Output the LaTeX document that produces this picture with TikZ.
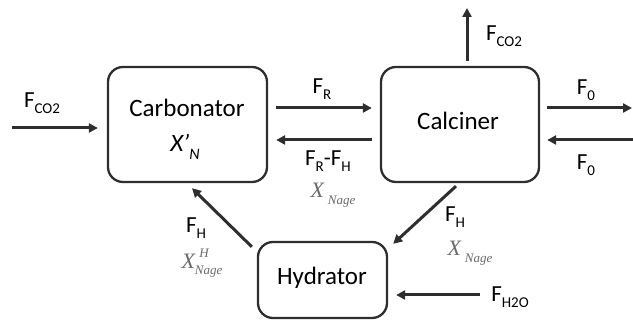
\documentclass[tikz,border=0pt]{standalone}
\usepackage{fontspec}
\setmainfont{Carlito}
\newfontfamily\tms{Liberation Serif}
\usetikzlibrary{arrows.meta}
\definecolor{ln}{HTML}{2E2E2E}
\definecolor{gx}{HTML}{6A6A6A}
\newcommand\sbs[1]{\raisebox{-0.28em}{\fontsize{15}{15}\selectfont #1}}
\newcommand\xn{{\color{gx}\tms\itshape\fontsize{22}{22}\selectfont X\,\raisebox{-0.3em}{\fontsize{13}{13}\selectfont Nage}}}
\newcommand\xnh{{\color{gx}\tms\itshape\fontsize{22}{22}\selectfont X\rlap{\hspace{0.2em}\raisebox{0.5em}{\fontsize{13}{13}\selectfont H}}\raisebox{-0.3em}{\fontsize{13}{13}\selectfont Nage}}}
\begin{document}
\begin{tikzpicture}[x=1pt,y=1pt,
  box/.style={draw=ln,line width=2.3pt,rounded corners=15pt,inner sep=0pt},
  arr/.style={draw=ln,line width=3pt,-{Triangle[length=9pt,width=9pt]}},
  lab/.style={inner sep=0pt,font=\fontsize{23}{23}\selectfont},
  big/.style={inner sep=0pt,font=\fontsize{25}{25}\selectfont}]
\useasboundingbox (0,0) rectangle (633,321);
\node[box,minimum width=159pt,minimum height=115pt] (carb) at (187.5,196.5) {};
\node[box,minimum width=158pt,minimum height=115pt] (calc) at (460,196.5) {};
\node[box,minimum width=129pt,minimum height=76pt] (hyd) at (322.5,41) {};
\node[big] (carbt) at (187,213) {Carbonator};
\node[big] (carbx) at (185,174) {\itshape X’\raisebox{-0.3em}{\fontsize{16}{16}\selectfont N}};
\node[big] (calct) at (458,200) {Calciner};
\node[big] (hydt) at (322,43) {Hydrator};
% connectors
\coordinate (inco2) at (12,193);
\coordinate (outco2) at (467,313);
\coordinate (f0out) at (632,213);
\coordinate (f0in) at (633,181);
\coordinate (h2oin) at (480,26);
\draw[arr] (inco2) -- ([xshift=-9pt,yshift=-3.5pt]carb.west);
\draw[arr] ([xshift=8pt,yshift=16.5pt]carb.east) -- ([xshift=-8pt,yshift=16.5pt]calc.west);
\draw[arr] ([xshift=-8pt,yshift=-15.5pt]calc.west) -- ([xshift=8pt,yshift=-15.5pt]carb.east);
\draw[arr] ([xshift=7pt,yshift=5pt]calc.north) -- (outco2);
\draw[arr] ([xshift=7pt,yshift=16.5pt]calc.east) -- (f0out);
\draw[arr] (f0in) -- ([xshift=7pt,yshift=-15.5pt]calc.east);
\draw[arr] ([xshift=-4pt,yshift=-3pt]calc.south) -- ([xshift=5pt,yshift=-3pt]hyd.north east);
\draw[arr] ([xshift=-5pt,yshift=-6pt]hyd.north west) -- ([xshift=4.5pt,yshift=-5pt]carb.south);
\draw[arr] (h2oin) -- ([xshift=8pt,yshift=-15pt]hyd.east);
% labels
\node[lab] (l1) at (42,218) {F\sbs{CO2}};
\node[lab] (l2) at (322,232) {F\sbs{R}};
\node[lab] (l3) at (328,160) {F\sbs{R}-F\sbs{H}};
\node[inner sep=0pt] (l4) at (333,126) {\xn};
\node[lab] (l5) at (504,285) {F\sbs{CO2}};
\node[lab] (l6) at (586,231) {F\sbs{0}};
\node[lab] (l7) at (586,156) {F\sbs{0}};
\node[lab] (l8) at (455,104) {F\sbs{H}};
\node[inner sep=0pt] (l9) at (470,68) {\xn};
\node[lab] (l10) at (510,24) {F\sbs{H2O}};
\node[lab] (l11) at (196,93) {F\sbs{H}};
\node[inner sep=0pt] (l12) at (202,58) {\xnh};
\end{tikzpicture}
\end{document}
